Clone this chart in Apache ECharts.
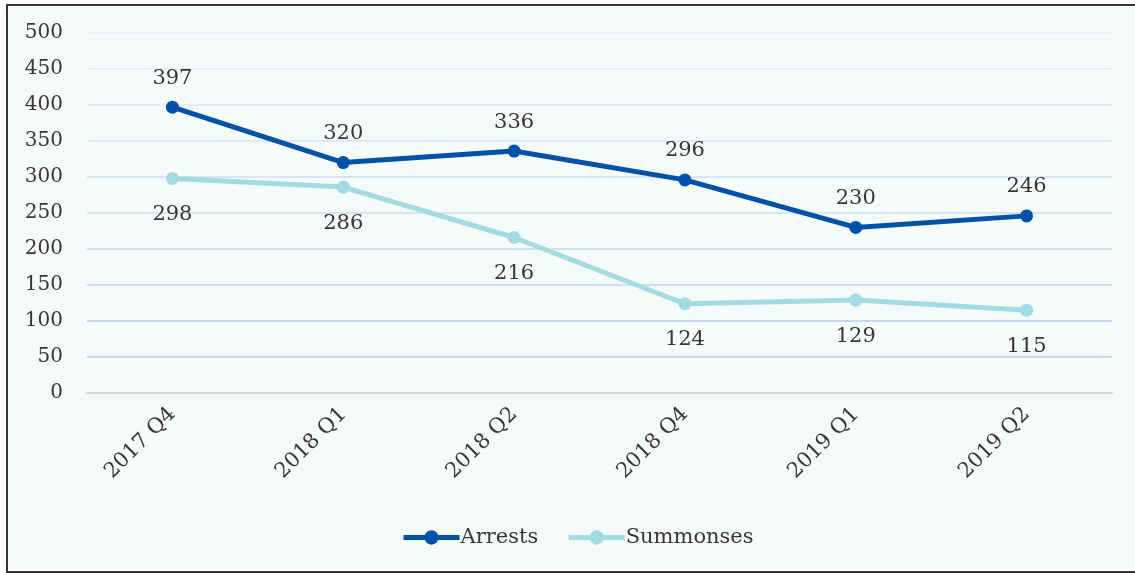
<!DOCTYPE html>
<html>
<head>
<meta charset="utf-8">
<script src="https://cdn.jsdelivr.net/npm/echarts@6/dist/echarts.min.js"></script>
<style>
  html, body { margin: 0; padding: 0; background: #ffffff; }
  #frame { position: absolute; left: 6px; top: 4px; width: 1140px; height: 565px; border: 2px solid #3a3533; background: #f5fafb; }
  #chart { position: absolute; left: 0; top: 0; width: 1135px; height: 573px; }
</style>
</head>
<body>
<div id="frame"></div>
<div id="chart"></div>
<script>
const categories = ['2017 Q4', '2018 Q1', '2018 Q2', '2018 Q4', '2019 Q1', '2019 Q2'];
const arrests = [397, 320, 336, 296, 230, 246];
const summonses = [298, 286, 216, 124, 129, 115];
const seriesNames = ['Arrests', 'Summonses'];

const font = 'DejaVu Serif';
const textColor = '#3a3533';
const chart = echarts.init(document.getElementById('chart'), null, { renderer: 'canvas' });
chart.setOption({
  backgroundColor: 'transparent',
  animation: false,
  grid: { left: 87, right: 23, top: 33, bottom: 180 },
  legend: {
    data: seriesNames,
    bottom: 20,
    left: 396,
    itemWidth: 56,
    itemHeight: 18,
    itemGap: 28,
    lineStyle: { width: 5 },
    textStyle: { fontFamily: font, fontSize: 21, color: textColor, padding: [0, 0, 0, -4] }
  },
  xAxis: {
    type: 'category',
    data: categories,
    boundaryGap: true,
    axisTick: { show: false },
    axisLine: { lineStyle: { color: '#d6d6d6', width: 2 } },
    axisLabel: { rotate: 45, margin: 18, fontFamily: font, fontSize: 21, color: textColor }
  },
  yAxis: {
    type: 'value',
    min: 0, max: 500, interval: 50,
    axisLine: { show: false },
    axisTick: { show: false },
    axisLabel: { margin: 24, fontFamily: font, fontSize: 20, color: textColor },
    splitLine: { lineStyle: { width: 2, color: ['#d6d6d6', '#c6dcf0', '#c6dcf0', '#cadff1', '#cfe1f2', '#d4e4f3', '#d8e6f4', '#dde9f5', '#e2ecf6', '#e8f0f7', '#eef3f8'] } }
  },
  series: [
    {
      name: seriesNames[0], type: 'line', data: arrests,
      symbol: 'circle', symbolSize: 13,
      lineStyle: { width: 5, color: '#0052a8' },
      itemStyle: { color: '#0052a8' },
      label: { show: true, position: 'top', distance: 12, fontFamily: font, fontSize: 21, color: textColor }
    },
    {
      name: seriesNames[1], type: 'line', data: summonses,
      symbol: 'circle', symbolSize: 13,
      lineStyle: { width: 5, color: '#a3dbe2' },
      itemStyle: { color: '#a3dbe2' },
      label: { show: true, position: 'bottom', distance: 19, fontFamily: font, fontSize: 21, color: textColor }
    }
  ]
});
</script>
</body>
</html>
